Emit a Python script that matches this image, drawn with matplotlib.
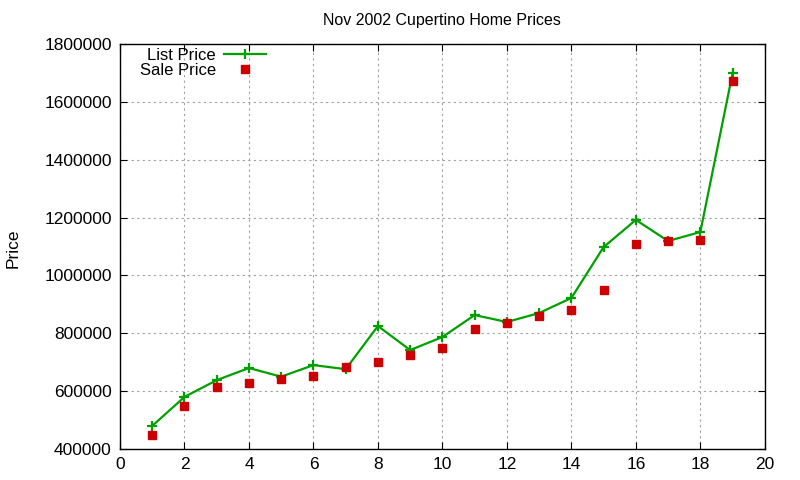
import matplotlib
matplotlib.use("Agg")
import matplotlib.pyplot as plt

plt.rcParams['font.family'] = ['Liberation Sans', 'DejaVu Sans']

houses = list(range(1, 20))
list_price = [480000, 580000, 638000, 680000, 650000, 690000, 676000, 825000, 742000, 787000,
              863000, 839000, 870000, 922000, 1098000, 1192000, 1119000, 1150000, 1699000]
sale_price = [448000, 549000, 614000, 628000, 642000, 652000, 683000, 700000, 725000, 749000,
              815000, 835000, 860000, 880000, 950000, 1109000, 1119000, 1122000, 1672000]

fig = plt.figure(figsize=(8, 4.8), dpi=100)
ax = fig.add_axes([0.15, 0.0646, 0.806, 0.8437])

ax.plot(houses, list_price, color='#00a000', linewidth=1.6, marker='+',
        markersize=7, markeredgewidth=1.6, label='List Price')
ax.plot(houses, sale_price, linestyle='none', color='#cc0000', marker='s',
        markersize=6, label='Sale Price')

ax.set_xlim(0, 20)
ax.set_ylim(400000, 1800000)
ax.set_xticks(range(0, 21, 2))
ax.set_yticks(range(400000, 1800001, 200000))
ax.set_yticklabels([str(v) for v in range(400000, 1800001, 200000)])
ax.tick_params(direction='in', top=True, right=True, labelsize=12.5, length=5, pad=6)
ax.grid(True, color='#a0a0a0', linestyle=(0, (2, 3)), linewidth=0.8)
for s in ax.spines.values():
    s.set_linewidth(1.0)

ax.set_title('Nov 2002 Cupertino Home Prices', fontsize=11.5, pad=14)
fig.text(13 / 800, 1 - 248 / 480, 'Price', rotation=90, fontsize=12.5,
         ha='center', va='center')

ax.legend(loc='upper right', bbox_to_anchor=((270 - 120) / 645, 1.0), frameon=False,
          markerfirst=False, fontsize=12, handlelength=2.5, handletextpad=0.5,
          labelspacing=0.0, borderaxespad=0.0, borderpad=0.25)

fig.savefig('out.png', dpi=100)
